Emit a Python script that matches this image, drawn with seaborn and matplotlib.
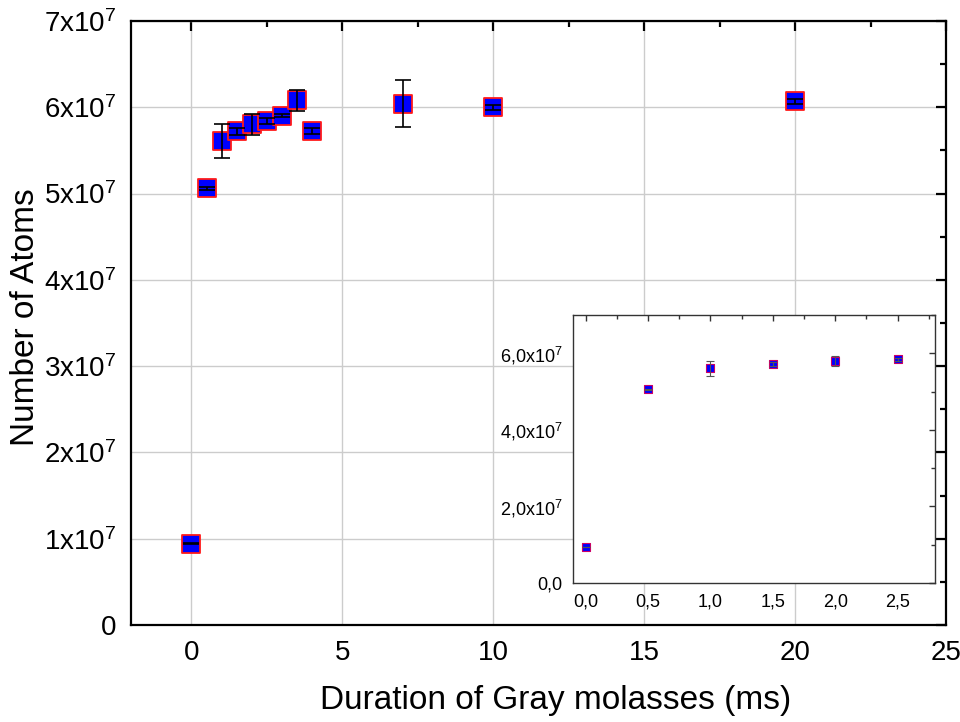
import numpy as np
import pandas as pd
import matplotlib
matplotlib.use("Agg")
import matplotlib.pyplot as plt
import seaborn as sns
from matplotlib.ticker import FuncFormatter, MultipleLocator

# Dados
duracao_ms = [0, 0.5, 1.0, 1.5, 2.0, 2.5, 3.0, 3.5, 4.0, 7.0, 10.0, 20.0]
n_atomos = [0.94e7, 5.06e7, 5.61e7, 5.72e7, 5.80e7, 5.84e7, 5.90e7, 6.08e7, 5.72e7, 6.04e7, 6.00e7, 6.07e7]
erro_atomos = [0.05e6, 0.18e6, 2.0e6, 0.45e6, 1.2e6, 0.3e6, 0.18e6, 1.2e6, 0.35e6, 2.7e6, 0.3e6, 0.3e6]

df = pd.DataFrame({"duracao": duracao_ms, "atomos": n_atomos, "erro": erro_atomos})
df_zoom = df[df["duracao"] <= 2.5]

sns.set_theme(style="white")
plt.rcParams["font.family"] = ["Liberation Sans", "DejaVu Sans"]
plt.rcParams["mathtext.fontset"] = "custom"
plt.rcParams["mathtext.rm"] = "Liberation Sans"
plt.rcParams["text.color"] = "black"
plt.rcParams["axes.labelcolor"] = "black"
plt.rcParams["xtick.labelcolor"] = "black"
plt.rcParams["ytick.labelcolor"] = "black"

fig = plt.figure(figsize=(9.6, 7.22), dpi=100)
ax = fig.add_axes([0.1365, 0.1343, 0.849, 0.8367])

sns.scatterplot(data=df, x="duracao", y="atomos", marker="s", s=150, color="#0000ff",
                edgecolor="#ff1a1a", linewidth=1.3, ax=ax, zorder=3)
ax.errorbar(df["duracao"], df["atomos"], yerr=df["erro"], fmt="none", ecolor="black",
            elinewidth=1.2, capsize=6, capthick=1.2, zorder=4)

ax.set_xlim(-2, 25)
ax.set_ylim(0, 7e7)
ax.xaxis.set_major_locator(MultipleLocator(5))
ax.xaxis.set_minor_locator(MultipleLocator(2.5))
ax.yaxis.set_major_locator(MultipleLocator(1e7))
ax.yaxis.set_minor_locator(MultipleLocator(0.5e7))


def fmt_main(v, pos):
    n = int(round(v / 1e7))
    if n == 0:
        return "0"
    return r"$\mathregular{%dx10^{7}}$" % n


ax.yaxis.set_major_formatter(FuncFormatter(fmt_main))
ax.grid(True, which="major", color="#cccccc", linewidth=1.0)
ax.set_axisbelow(True)
for s in ax.spines.values():
    s.set_color("black")
    s.set_linewidth(1.6)
ax.tick_params(which="both", direction="out", color="black", top=True, right=True)
ax.tick_params(which="major", length=7, width=1.6, labelsize=20)
ax.tick_params(which="minor", length=4, width=1.6)
for t in ax.xaxis.get_major_ticks() + ax.xaxis.get_minor_ticks():
    t.tick2line.set_marker(3)
for t in ax.yaxis.get_major_ticks() + ax.yaxis.get_minor_ticks():
    t.tick2line.set_marker(0)
ax.set_xlabel("Duration of Gray molasses (ms)", fontsize=24)
ax.set_ylabel("Number of Atoms", fontsize=24)
ax.xaxis.set_label_coords(0.521, -0.1)
ax.yaxis.set_label_coords(-0.11, 0.51)

# Gráfico interno (zoom)
axi = fig.add_axes([0.597, 0.1925, 0.377, 0.3712])
sns.scatterplot(data=df_zoom, x="duracao", y="atomos", marker="s", s=30, color="#0000ff",
                edgecolor="#cc0066", linewidth=0.8, ax=axi, zorder=3)
axi.errorbar(df_zoom["duracao"], df_zoom["atomos"], yerr=df_zoom["erro"], fmt="none",
             ecolor="#555555", elinewidth=0.8, capsize=3, capthick=0.8, zorder=4)
axi.set_xlim(-0.1, 2.8)
axi.set_ylim(0, 7e7)
axi.xaxis.set_major_locator(MultipleLocator(0.5))
axi.xaxis.set_minor_locator(MultipleLocator(0.25))
axi.yaxis.set_major_locator(MultipleLocator(2e7))
axi.yaxis.set_minor_locator(MultipleLocator(1e7))


def fmt_zoom_y(v, pos):
    n = v / 1e7
    if abs(n) < 1e-9:
        return "0,0"
    return (r"$\mathregular{%.1fx10^{7}}$" % n).replace(".", "{,}")


axi.yaxis.set_major_formatter(FuncFormatter(fmt_zoom_y))
axi.xaxis.set_major_formatter(FuncFormatter(lambda v, p: ("%.1f" % v).replace(".", ",")))
for s in axi.spines.values():
    s.set_color("#333333")
    s.set_linewidth(1.0)
axi.tick_params(which="both", direction="out", color="#333333", top=True, right=True)
axi.tick_params(which="major", length=4, width=1.0, labelsize=13)
axi.tick_params(which="minor", length=3, width=1.0)
for t in axi.xaxis.get_major_ticks() + axi.xaxis.get_minor_ticks():
    t.tick2line.set_marker(3)
for t in axi.yaxis.get_major_ticks() + axi.yaxis.get_minor_ticks():
    t.tick2line.set_marker(0)
axi.set_xlabel("")
axi.set_ylabel("")

fig.savefig("out.png", dpi=100)
